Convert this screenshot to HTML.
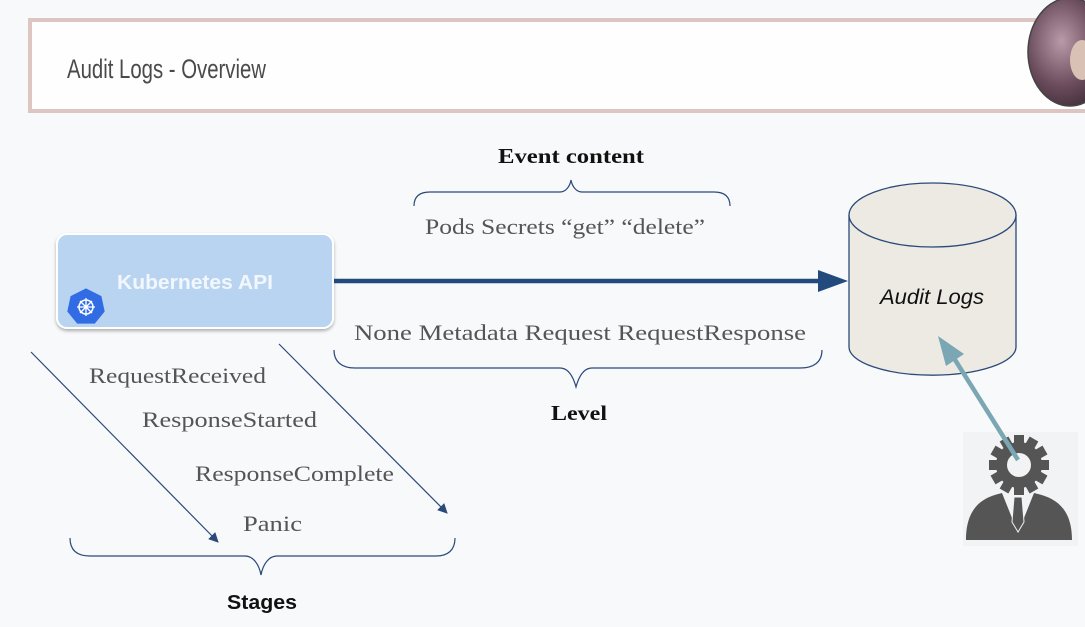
<!DOCTYPE html>
<html><head><meta charset="utf-8"><style>
html,body{margin:0;padding:0;background:#f8f9fa;width:1085px;height:627px;overflow:hidden}
</style></head><body>
<svg width="1085" height="627" viewBox="0 0 1085 627" xmlns="http://www.w3.org/2000/svg">
<defs>
<marker id="ah" markerWidth="10" markerHeight="10" refX="9" refY="5" orient="auto" markerUnits="userSpaceOnUse"><path d="M0,0 L10,5 L0,10 z" fill="#2b4a7a"/></marker>
<radialGradient id="av" cx="0.4" cy="0.4" r="0.7"><stop offset="0" stop-color="#b89aa8"/><stop offset="0.6" stop-color="#6a4b5c"/><stop offset="1" stop-color="#3c2a34"/></radialGradient>
<filter id="sh" x="-10%" y="-10%" width="120%" height="130%"><feDropShadow dx="0" dy="2" stdDeviation="1.5" flood-color="#000" flood-opacity="0.3"/></filter>
</defs>
<rect x="30" y="20" width="1065" height="91" fill="#fefefe" stroke="#ddc6c1" stroke-width="4"/>
<text x="67" y="78" font-family="Liberation Sans, sans-serif" font-size="27" fill="#4a4a4a" textLength="199" lengthAdjust="spacingAndGlyphs">Audit Logs - Overview</text>
<ellipse cx="1070" cy="52" rx="42" ry="54" fill="url(#av)" stroke="#444" stroke-width="1.5"/>
<ellipse cx="1082" cy="60" rx="12" ry="20" fill="#d9c2b5"/>
<rect x="57" y="234" width="276" height="94" rx="10" fill="#b9d4f1" stroke="#fff" stroke-width="2" filter="url(#sh)"/>
<text x="195" y="289" text-anchor="middle" font-family="Liberation Sans, sans-serif" font-weight="bold" font-size="20" fill="#f2f7fd" textLength="156" lengthAdjust="spacingAndGlyphs">Kubernetes API</text>
<polygon points="86,290 100,297 103,311 94,322 78,322 69,311 72,297" fill="#326ce5" transform="translate(86 306) scale(1.1) translate(-86 -306)"/>
<circle cx="86" cy="307" r="7" fill="none" stroke="#fff" stroke-width="1.5"/>
<g stroke="#fff" stroke-width="1.3"><line x1="86" y1="298" x2="86" y2="316"/><line x1="77" y1="307" x2="95" y2="307"/><line x1="80" y1="301" x2="92" y2="313"/><line x1="92" y1="301" x2="80" y2="313"/></g>
<line x1="334" y1="281" x2="825" y2="281" stroke="#234a7c" stroke-width="4.5"/>
<polygon points="818,270 848,281 818,292" fill="#234a7c"/>
<path d="M849,215 L849,347 A83,28 0 0 0 1016,347 L1016,215" fill="#eceae2" stroke="#2b4a7a" stroke-width="1.3"/>
<ellipse cx="932.5" cy="215" rx="83.5" ry="32" fill="#eceae2" stroke="#2b4a7a" stroke-width="1.3"/>
<text x="932" y="304" text-anchor="middle" font-family="Liberation Sans, sans-serif" font-style="italic" font-size="21" fill="#111" textLength="104" lengthAdjust="spacingAndGlyphs">Audit Logs</text>
<rect x="963" y="432" width="115" height="114" fill="#f2f3f4"/>
<path d="M966,540 C966,505 985,497 1002,493 L1018,533 L1034,493 C1052,497 1072,505 1072,540 Z" fill="#555"/>
<path d="M1014,497 L1022,497 L1024,522 L1018,532 L1012,522 Z" fill="#555" stroke="#f2f3f4" stroke-width="1"/>
<g transform="translate(1019,465)">
<circle r="23" fill="#555"/>
<g fill="#555"><rect x="-5" y="-30" width="10" height="60"/><rect x="-5" y="-30" width="10" height="60" transform="rotate(30)"/><rect x="-5" y="-30" width="10" height="60" transform="rotate(60)"/><rect x="-5" y="-30" width="10" height="60" transform="rotate(90)"/><rect x="-5" y="-30" width="10" height="60" transform="rotate(120)"/><rect x="-5" y="-30" width="10" height="60" transform="rotate(150)"/></g>
<circle r="12" fill="#f2f3f4"/>
</g>
<line x1="1018" y1="460" x2="952" y2="355" stroke="#7aa7b3" stroke-width="4.5"/>
<polygon points="938,336 964,354 946,366" fill="#7aa7b3"/>
<text x="571" y="163" text-anchor="middle" font-family="Liberation Serif, serif" font-weight="bold" font-size="21" fill="#111" textLength="146" lengthAdjust="spacingAndGlyphs">Event content</text>
<path d="M414,206 C414,196 420,192 430,192 L560,192 C566,192 570,186 571,180 C572,186 576,192 582,192 L714,192 C724,192 730,196 730,206" fill="none" stroke="#2b4a7a" stroke-width="1.2"/>
<g font-family="Liberation Serif, serif" font-size="22" fill="#555">
<text x="425" y="234" textLength="280" lengthAdjust="spacingAndGlyphs">Pods  Secrets  “get”  “delete”</text>
<text x="354" y="340" textLength="452" lengthAdjust="spacingAndGlyphs">None  Metadata  Request  RequestResponse</text>
<text x="89" y="383" textLength="177" lengthAdjust="spacingAndGlyphs">RequestReceived</text>
<text x="142" y="427" textLength="175" lengthAdjust="spacingAndGlyphs">ResponseStarted</text>
<text x="195" y="481" textLength="199" lengthAdjust="spacingAndGlyphs">ResponseComplete</text>
<text x="243" y="531" textLength="59" lengthAdjust="spacingAndGlyphs">Panic</text>
</g>
<path d="M334,350 C334,362 342,368 355,368 L560,368 C568,368 573,376 576,387 C579,376 584,368 592,368 L800,368 C814,368 822,362 822,350" fill="none" stroke="#2b4a7a" stroke-width="1.2"/>
<text x="579" y="420" text-anchor="middle" font-family="Liberation Serif, serif" font-weight="bold" font-size="21" fill="#111" textLength="56" lengthAdjust="spacingAndGlyphs">Level</text>
<line x1="31" y1="352" x2="218" y2="542" stroke="#2b4a7a" stroke-width="1.2" marker-end="url(#ah)"/>
<line x1="279" y1="344" x2="447" y2="513" stroke="#2b4a7a" stroke-width="1.2" marker-end="url(#ah)"/>
<path d="M70,538 C70,550 77,556 90,556 L245,556 C253,556 259,564 261,575 C263,564 269,556 277,556 L436,556 C448,556 455,550 455,538" fill="none" stroke="#2b4a7a" stroke-width="1.2"/>
<text x="262" y="609" text-anchor="middle" font-family="Liberation Sans, sans-serif" font-weight="bold" font-size="20" fill="#111" textLength="70" lengthAdjust="spacingAndGlyphs">Stages</text>
</svg>
</body></html>
